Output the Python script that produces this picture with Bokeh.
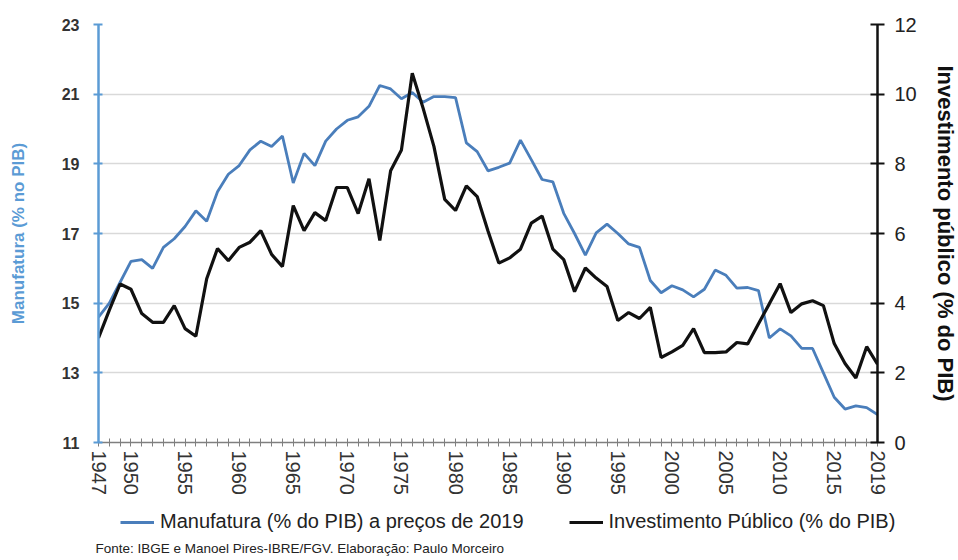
from bokeh.plotting import figure
from bokeh.layouts import column
from bokeh.models import Range1d, LinearAxis, FixedTicker, Legend, LegendItem, Label
from bokeh.embed import file_html
from bokeh.resources import INLINE

years = list(range(1947, 2020))

manufatura = [
    14.6, 15.0, 15.6, 16.2, 16.25, 16.0, 16.6, 16.85, 17.2, 17.65,   # 1947-1956
    17.35, 18.2, 18.7, 18.95, 19.4, 19.65, 19.5, 19.8, 18.45, 19.3,  # 1957-1966
    18.95, 19.65, 20.0, 20.25, 20.35, 20.65, 21.25, 21.15, 20.87, 21.05,  # 1967-1976
    20.77, 20.93, 20.93, 20.9, 19.6, 19.35, 18.8, 18.9, 19.02, 19.68,  # 1977-1986
    19.12, 18.55, 18.48, 17.58, 17.0, 16.38, 17.02, 17.27, 17.0, 16.7,  # 1987-1996
    16.6, 15.65, 15.3, 15.5, 15.38, 15.18, 15.4, 15.95, 15.8, 15.43,  # 1997-2006
    15.45, 15.36, 14.0, 14.26, 14.06, 13.7, 13.7, 13.0, 12.3, 11.96,  # 2007-2016
    12.05, 12.0, 11.8,                                                # 2017-2019
]

investimento = [
    3.0, 3.8, 4.55, 4.4, 3.7, 3.45, 3.45, 3.93, 3.27, 3.05,          # 1947-1956
    4.7, 5.57, 5.22, 5.6, 5.75, 6.08, 5.4, 5.05, 6.8, 6.08,          # 1957-1966
    6.6, 6.37, 7.32, 7.32, 6.57, 7.57, 5.8, 7.8, 8.4, 10.6,          # 1967-1976
    9.6, 8.5, 6.98, 6.66, 7.37, 7.06, 6.07, 5.15, 5.3, 5.55,         # 1977-1986
    6.3, 6.5, 5.55, 5.25, 4.33, 5.01, 4.72, 4.48, 3.5, 3.73,         # 1987-1996
    3.56, 3.88, 2.44, 2.6, 2.79, 3.27, 2.58, 2.58, 2.6, 2.87,        # 1997-2006
    2.83, 3.41, 3.98, 4.56, 3.73, 3.98, 4.07, 3.93, 2.84, 2.27,      # 2007-2016
    1.85, 2.75, 2.25,                                                # 2017-2019
]

left_ticks = [11, 13, 15, 17, 19, 21, 23]
right_ticks = [0, 2, 4, 6, 8, 10, 12]
labeled_years = [1947, 1950, 1955, 1960, 1965, 1970, 1975, 1980, 1985, 1990,
                 1995, 2000, 2005, 2010, 2015, 2019]

label_manuf = "Manufatura (% do PIB) a preços de 2019"
label_invest = "Investimento Público (% do PIB)"
left_title = "Manufatura (% no PIB)"
right_title = "Investimento público (% do PIB)"
source_text = "Fonte: IBGE e Manoel Pires-IBRE/FGV. Elaboração: Paulo Morceiro"

FONT = "Liberation Sans"
BLUE_LINE = "#4a7ebb"
BLUE_AXIS = "#5b9bd5"
BLACK = "#111111"

# ---------------- main chart ----------------
p = figure(
    frame_width=779, frame_height=418,
    x_range=Range1d(1947, 2019), y_range=Range1d(11, 23),
    output_backend="svg", toolbar_location=None,
    min_border_left=98, min_border_right=81, min_border_top=24, min_border_bottom=62,
    background_fill_color="white", border_fill_color="white",
)
p.outline_line_color = None
p.frame_align = False
p.extra_y_ranges = {"right": Range1d(0, 12)}

p.xgrid.grid_line_color = None
p.ygrid.grid_line_color = "#d9d9d9"
p.ygrid.grid_line_width = 1.5
p.ygrid.ticker = FixedTicker(ticks=left_ticks)

ly = p.yaxis[0]
ly.ticker = FixedTicker(ticks=left_ticks)
ly.axis_line_color = BLUE_AXIS
ly.axis_line_width = 2.5
ly.major_tick_line_color = BLUE_AXIS
ly.major_tick_line_width = 2
ly.major_tick_in = 4
ly.major_tick_out = 5
ly.minor_tick_line_color = None
ly.major_label_standoff = 14
ly.major_label_text_font = FONT
ly.major_label_text_font_size = "16px"
ly.major_label_text_font_style = "bold"
ly.major_label_text_color = "#333333"
ly.axis_label = left_title
ly.axis_label_text_font = FONT
ly.axis_label_text_font_size = "17px"
ly.axis_label_text_font_style = "bold"
ly.axis_label_text_color = BLUE_AXIS
ly.axis_label_standoff = 31

ry = LinearAxis(y_range_name="right")
ry.ticker = FixedTicker(ticks=right_ticks)
ry.axis_line_color = BLACK
ry.axis_line_width = 2.5
ry.major_tick_line_color = BLACK
ry.major_tick_line_width = 2
ry.major_tick_in = 7
ry.major_tick_out = 7
ry.minor_tick_line_color = None
ry.major_label_standoff = 10
ry.major_label_text_font = FONT
ry.major_label_text_font_size = "20px"
ry.major_label_text_color = "#222222"
ry.axis_label = right_title
ry.axis_label_text_font = FONT
ry.axis_label_text_font_size = "22px"
ry.axis_label_text_font_style = "bold"
ry.axis_label_text_color = BLACK
ry.axis_label_standoff = 13
p.add_layout(ry, "right")

xa = p.xaxis[0]
xa.ticker = FixedTicker(ticks=years)
xa.major_label_overrides = {y: (str(y) if y in labeled_years else "") for y in years}
xa.axis_line_color = "#7f7f7f"
xa.axis_line_width = 1.5
xa.major_tick_line_color = "#7f7f7f"
xa.major_tick_line_width = 1
xa.major_tick_in = 4
xa.major_tick_out = 4
xa.minor_tick_line_color = None
xa.major_label_orientation = "vertical"
xa.major_label_standoff = 4
xa.major_label_text_font = FONT
xa.major_label_text_font_size = "20px"
xa.major_label_text_color = "#333333"

p.line(years, manufatura, line_color=BLUE_LINE, line_width=2.8)
p.line(years, investimento, y_range_name="right", line_color=BLACK, line_width=3.2)

# ---------------- legend + source strip ----------------
# The strip's ranges are in pixels; the series drawn here lie outside them
# and only serve as legend keys.
STRIP_H = 56
q = figure(
    width=958, height=STRIP_H,
    x_range=Range1d(0, 958), y_range=Range1d(0, STRIP_H),
    x_axis_type=None, y_axis_type=None,
    output_backend="svg", toolbar_location=None, min_border=0,
    background_fill_color="white", border_fill_color="white",
)
q.outline_line_color = None
q.frame_align = False
q.grid.grid_line_color = None
k1 = q.line(years, manufatura, line_color=BLUE_LINE, line_width=3)
k2 = q.line(years, investimento, line_color=BLACK, line_width=3.2)

legend = Legend(
    items=[LegendItem(label=label_manuf, renderers=[k1]),
           LegendItem(label=label_invest, renderers=[k2])],
    orientation="horizontal", location=(120, 27),
    border_line_color=None, background_fill_alpha=0,
    label_text_font=FONT, label_text_font_size="20px", label_text_color="#222222",
    glyph_width=34, glyph_height=20, spacing=45, padding=2,
    label_standoff=6,
)
q.add_layout(legend, "center")

q.add_layout(Label(x=95, y=12, x_units="screen", y_units="screen", text=source_text,
                   text_align="left", text_baseline="middle",
                   text_font=FONT, text_font_size="13.5px", text_color="#222222"))

layout = column(p, q, spacing=0)

html = file_html(layout, INLINE)
with open("out.html", "w") as f:
    f.write(html)
